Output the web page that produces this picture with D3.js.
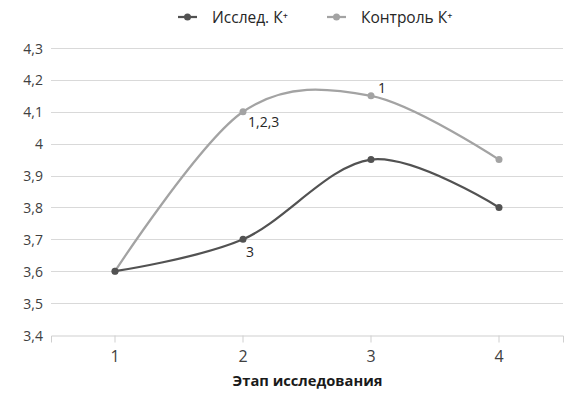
<!DOCTYPE html>
<html>
<head>
<meta charset="utf-8">
<script src="https://cdn.jsdelivr.net/npm/d3@7"></script>
<style>
  body { margin: 0; background: #fff; }
  svg { font-family: "Open Sans", "Noto Sans", sans-serif; }
</style>
</head>
<body>
<script>
//data
var stages = ["1", "2", "3", "4"];
var researchValues = [3.6, 3.7, 3.95, 3.8];
var controlValues = [3.6, 4.1, 4.15, 3.95];
var yTicks = [3.4, 3.5, 3.6, 3.7, 3.8, 3.9, 4.0, 4.1, 4.2, 4.3];
var seriesNames = ["Исслед. К⁺", "Контроль К⁺"];
var pointLabels = [
  {series: 1, index: 1, text: "1,2,3", dx: 5, dy: 15},
  {series: 1, index: 2, text: "1", dx: 7, dy: -3},
  {series: 0, index: 1, text: "3", dx: 3, dy: 18}
];

var width = 568, height = 397;
var plotLeft = 51, plotRight = 563, plotTop = 48, plotBottom = 335;
var colors = ["#525252", "#a3a3a3"];

var svg = d3.select("body").append("svg")
  .attr("width", width)
  .attr("height", height);

var x = d3.scaleBand().domain(stages).range([plotLeft, plotRight]);
var y = d3.scaleLinear().domain([3.4, 4.3]).range([plotBottom, plotTop]);
var fmt = function(d){ return d3.format(".1~f")(d).replace(".", ","); };

//gridlines
svg.append("g").selectAll("line")
  .data(yTicks.slice(1))
  .enter().append("line")
  .attr("x1", plotLeft).attr("x2", plotRight)
  .attr("y1", function(d){ return Math.round(y(d)) + 0.5; })
  .attr("y2", function(d){ return Math.round(y(d)) + 0.5; })
  .style("stroke", "#d9d9d9");

//y labels
svg.append("g").selectAll("text")
  .data(yTicks)
  .enter().append("text")
  .attr("x", 43)
  .attr("y", function(d){ return y(d) + 5.5; })
  .attr("text-anchor", "end")
  .style("font-size", "14px")
  .style("fill", "#404040")
  .text(fmt);

//x axis
var xAxis = svg.append("g")
  .attr("transform", "translate(0," + (Math.round(plotBottom) + 0.5) + ")")
  .call(d3.axisBottom(x).tickSize(7).tickPadding(0));
xAxis.select(".domain").style("stroke", "#cfcfcf");
xAxis.selectAll(".tick line").style("stroke", "#cfcfcf");
xAxis.selectAll(".tick text")
  .attr("dy", null)
  .attr("y", 26)
  .style("font-size", "16px")
  .style("fill", "#404040")
  .style("font-family", "'Open Sans', sans-serif");

svg.append("text")
  .attr("x", (plotLeft + plotRight) / 2 + 0.5)
  .attr("y", 386)
  .attr("text-anchor", "middle")
  .style("font-size", "14.7px")
  .style("font-weight", "bold")
  .style("fill", "#1a1a1a")
  .text("Этап исследования");

//lines
var line = d3.line()
  .x(function(d, i){ return x(stages[i]) + x.bandwidth() / 2; })
  .y(function(d){ return y(d); })
  .curve(d3.curveCardinal.tension(0));

var seriesData = [researchValues, controlValues];
// draw control first so research sits on top
[1, 0].forEach(function(s){
  var g = svg.append("g");
  g.append("path")
    .datum(seriesData[s])
    .attr("d", line)
    .style("fill", "none")
    .style("stroke", colors[s])
    .style("stroke-width", 2.25);
  g.selectAll("circle")
    .data(seriesData[s])
    .enter().append("circle")
    .attr("cx", function(d, i){ return x(stages[i]) + x.bandwidth() / 2; })
    .attr("cy", function(d){ return y(d); })
    .attr("r", 3.5)
    .style("fill", colors[s]);
});

//point labels
svg.append("g").selectAll("text")
  .data(pointLabels)
  .enter().append("text")
  .attr("x", function(d){ return x(stages[d.index]) + x.bandwidth() / 2 + d.dx; })
  .attr("y", function(d){ return y(seriesData[d.series][d.index]) + d.dy; })
  .style("font-size", "14px")
  .style("fill", "#262626")
  .text(function(d){ return d.text; });

//legend
var legend = svg.append("g").attr("transform", "translate(178,17)");
var legendX = [0, 149];
seriesNames.forEach(function(name, i){
  var item = legend.append("g").attr("transform", "translate(" + legendX[i] + ",0)");
  item.append("line")
    .attr("x1", 0).attr("x2", 19)
    .style("stroke", colors[i])
    .style("stroke-width", 2.25);
  item.append("circle")
    .attr("cx", 9.5).attr("r", 3.5)
    .style("fill", colors[i]);
  item.append("text")
    .attr("x", 34).attr("y", 5.5)
    .style("font-size", "15.5px")
    .style("fill", "#262626")
    .text(name);
});
</script>
</body>
</html>
